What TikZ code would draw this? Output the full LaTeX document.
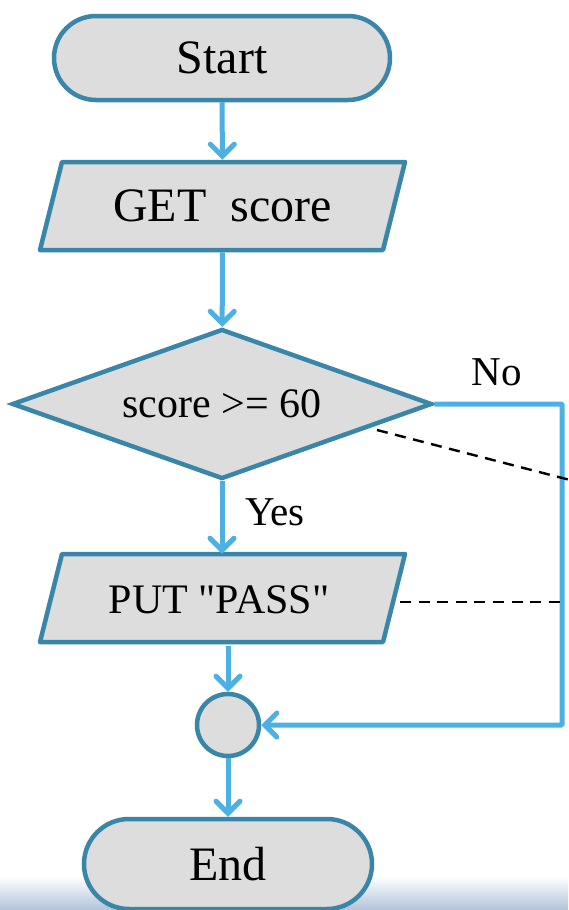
\documentclass[tikz,border=0pt]{standalone}
\usepackage{fontspec}
\setmainfont{Liberation Serif}[Ligatures=TeXOff]
\usetikzlibrary{positioning, arrows.meta, shapes.geometric, shapes.misc, calc}

\definecolor{edgeblue}{RGB}{58,134,168}
\definecolor{arrowblue}{RGB}{76,176,226}
\definecolor{boxgray}{RGB}{221,221,221}
\definecolor{seablue}{RGB}{178,196,218}

\begin{document}
\begin{tikzpicture}[
    x=1pt, y=-1pt,
    terminal/.style={
        rounded rectangle,
        draw=edgeblue,
        fill=boxgray,
        line width=4.5pt,
        inner sep=0pt,
        font=\fontsize{48}{52}\selectfont
    },
    io/.style={
        rectangle,
        inner sep=0pt,
        outer sep=2.25pt,
        minimum width=343pt,
        minimum height=88pt
    },
    iobox/.style={
        draw=edgeblue,
        fill=boxgray,
        line width=4.5pt,
        line join=round
    },
    decision/.style={
        diamond,
        aspect=2.8,
        draw=edgeblue,
        fill=boxgray,
        line width=4.5pt,
        inner sep=0pt,
        minimum width=420pt,
        minimum height=150pt,
        font=\fontsize{42}{46}\selectfont
    },
    joint/.style={
        circle,
        draw=edgeblue,
        fill=boxgray,
        line width=4.5pt,
        minimum size=62pt,
        inner sep=0pt
    },
    arrow/.style={-{Straight Barb[length=12pt, width=24pt, line cap=round]},
        draw=arrowblue, line width=5pt},
    guide/.style={draw=black, line width=2.4pt, dash pattern=on 11pt off 7.6pt},
    label/.style={font=\fontsize{41}{45}\selectfont}
]
\useasboundingbox (0,0) rectangle (568,910);

% Background strip at the bottom
\shade[top color=white, bottom color=seablue] (0,876) rectangle (568,910);

% Start
\node[terminal, minimum width=336pt, minimum height=84pt] (start) at (222,58) {Start};

% Input box
\path[iobox] (222.5,206) ++(-160.5,-44) -- ++(343,0) -- ++(-22,88) -- ++(-343,0) -- cycle;
\node[io, font=\fontsize{48}{52}\selectfont] (get) at (222.5,206) {GET\ \ score};

% Decision
\node[decision] (test) at (222,404) {score >= 60};
\node[label] (no) at (497,372) {No};

% Output box
\path[iobox] (222.5,598) ++(-160.5,-44) -- ++(343,0) -- ++(-22,88) -- ++(-343,0) -- cycle;
\node[io, font=\fontsize{42}{46}\selectfont] (put) at (219,600) {PUT "PASS"};
\node[label] (yes) at (275,512) {Yes};

% Join and end
\node[joint] (join) at (228,725) {};
\node[terminal, minimum width=288pt, minimum height=90pt] (end) at (228,864) {End};

% Flow arrows
\draw[arrow] (start) -- (get);
\draw[arrow] (get) -- (test);
\draw[arrow] (test) -- (test |- put.north);
\draw[arrow] (put.south -| join) -- (join);
\draw[arrow] (join) -- (end);

% No branch
\coordinate (turn) at (562,404);
\draw[arrow, rounded corners=1pt] (test.east) -- (turn) |- (join.east);

% Dashed guides
\coordinate (guideA) at (377,430);
\coordinate (guideB) at (570,480);
\coordinate (guideC) at (400,602);
\coordinate (guideD) at (560,602);
\draw[guide] (guideA) -- (guideB);
\draw[guide] (guideC) -- (guideD);

\end{tikzpicture}
\end{document}
